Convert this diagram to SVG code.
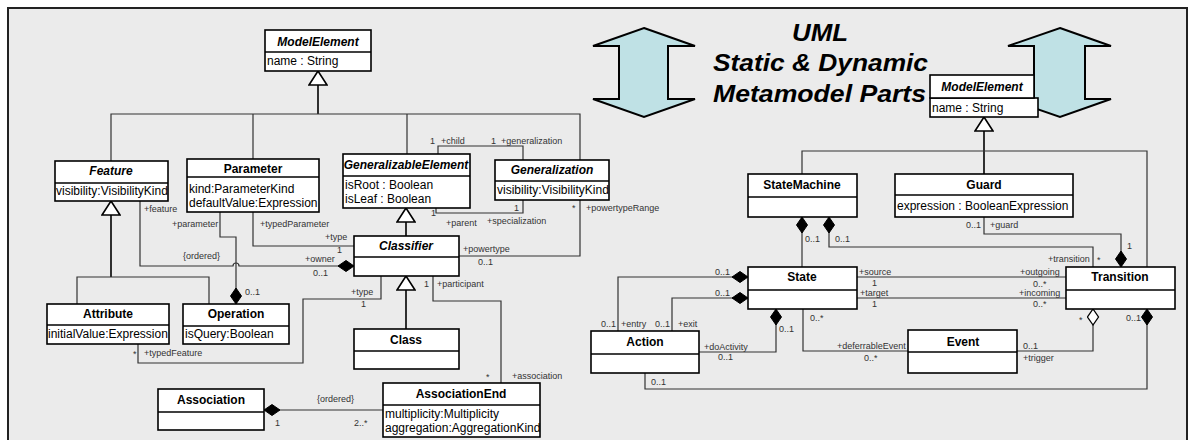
<svg xmlns="http://www.w3.org/2000/svg" width="1194" height="440" viewBox="0 0 1194 440">
  <style>
    .frame { fill: #ebebeb; stroke: #222; stroke-width: 2; }
    .arrow { fill: #bfe1e5; stroke: #000; stroke-width: 2; stroke-linejoin: miter; }
    .box { fill: #fff; stroke: #000; stroke-width: 1.6; }
    .sep { stroke: #000; stroke-width: 1.6; }
    .t { font-family: "Liberation Sans", Arial, sans-serif; font-size: 12px; font-weight: bold; text-anchor: middle; fill: #000; }
    .ti { font-style: italic; }
    .a { font-family: "Liberation Sans", Arial, sans-serif; font-size: 12px; fill: #000; }
    .l { font-family: "Liberation Sans", Arial, sans-serif; font-size: 9px; fill: #333; }
    .c { fill: none; stroke: #333; stroke-width: 1.2; }
    .g { fill: none; stroke: #000; stroke-width: 1.6; }
    .title { font-family: "Liberation Sans", Arial, sans-serif; font-size: 24px; font-weight: bold; font-style: italic; fill: #000; }
  </style>
  <defs>
    <!-- hollow generalization triangle, tip at the end of the path -->
    <marker id="gen" viewBox="-1 -1 16 20" refX="14" refY="9" markerWidth="16" markerHeight="20" markerUnits="userSpaceOnUse" orient="auto">
      <path d="M0,0 L14,9 L0,18 Z" fill="#fff" stroke="#000" stroke-width="1.6"/>
    </marker>
    <!-- filled composition diamond -->
    <marker id="comp" viewBox="-1 -1 18 13" refX="16" refY="5.5" markerWidth="18" markerHeight="13" markerUnits="userSpaceOnUse" orient="auto">
      <path d="M0,5.5 L8,0 L16,5.5 L8,11 Z" fill="#000" stroke="#000" stroke-width="1"/>
    </marker>
    <!-- hollow aggregation diamond -->
    <marker id="agg" viewBox="-1 -1 18 13" refX="16" refY="5.5" markerWidth="18" markerHeight="13" markerUnits="userSpaceOnUse" orient="auto">
      <path d="M0,5.5 L8,0 L16,5.5 L8,11 Z" fill="#fff" stroke="#000" stroke-width="1.3"/>
    </marker>
  </defs>

  <rect x="0" y="0" width="1194" height="440" fill="#fff"/>
  <rect class="frame" x="8" y="8" width="1179" height="450"/>

  <!-- heading and double arrows -->
  <g id="heading">
    <polygon class="arrow" points="644,28 695,46 668,46 668,99 695,99 644,117 593,99 619,99 619,46 593,46"/>
    <polygon class="arrow" points="1060,28 1111,46 1085,46 1085,99 1111,99 1060,117 1008,99 1034,99 1034,46 1008,46"/>
    <text class="title" x="792" y="41" textLength="56" lengthAdjust="spacingAndGlyphs">UML</text>
    <text class="title" x="713" y="71" textLength="215" lengthAdjust="spacingAndGlyphs">Static &amp; Dynamic</text>
    <text class="title" x="713" y="102" textLength="213" lengthAdjust="spacingAndGlyphs">Metamodel Parts</text>
  </g>

  <!-- connectors -->
  <g id="connectors">
    <!-- static part: generalizations -->
    <path class="g" d="M318,114 L318,71" marker-end="url(#gen)"/>
    <path class="c" d="M111,161 L111,114 L580,114 L580,160 M253,159 L253,114 M407,154 L407,114"/>
    <path class="g" d="M111,277 L111,201" marker-end="url(#gen)"/>
    <path class="c" d="M77,304 L77,277 L209,277 L209,304"/>
    <path class="g" d="M406,236 L406,208" marker-end="url(#gen)"/>
    <path class="g" d="M406,329 L406,276" marker-end="url(#gen)"/>

    <!-- static part: associations -->
    <path class="c" d="M438,154 L438,146 L523,146 L523,160"/>
    <path class="c" d="M436,208 L436,213 L523,213 L523,200"/>
    <path class="c" d="M459,256 L580,256 L580,200"/>
    <path class="c" d="M140,201 L140,266 L233,266 A3,3 0 0 1 239,266 L354,266" marker-end="url(#comp)"/>
    <path class="c" d="M220,212 L220,237 L236,237 L236,304" marker-end="url(#comp)"/>
    <path class="c" d="M253,212 L253,246 L354,246"/>
    <path class="c" d="M138,344 L138,363 L303,363 L303,299 L381,299 L381,276"/>
    <path class="c" d="M433,276 L433,301 L501,301 L501,383"/>
    <path class="c" d="M383,410 L264,410" marker-end="url(#comp)"/>

    <!-- dynamic part: generalization -->
    <path class="g" d="M984,174 L984,117" marker-end="url(#gen)"/>
    <path class="c" d="M802,174 L802,151 L1147,151 L1147,267"/>

    <!-- dynamic part: associations -->
    <path class="c" d="M984,217 L984,234 L1121,234 L1121,267" marker-end="url(#comp)"/>
    <path class="c" d="M1093,267 L1093,247 L829,247 L829,217" marker-end="url(#comp)"/>
    <path class="c" d="M802,267 L802,217" marker-end="url(#comp)"/>
    <path class="c" d="M857,277 L1066,277"/>
    <path class="c" d="M857,298 L1066,298"/>
    <path class="c" d="M803,309 L803,351 L908,351"/>
    <path class="c" d="M1017,351 L1093,351 L1093,309" marker-end="url(#agg)"/>
    <path class="c" d="M645,373 L645,389 L1147,389 L1147,309" marker-end="url(#comp)"/>
    <path class="c" d="M618,331 L618,277 L748,277" marker-end="url(#comp)"/>
    <path class="c" d="M672,331 L672,298 L748,298" marker-end="url(#comp)"/>
    <path class="c" d="M699,352 L776,352 L776,309" marker-end="url(#comp)"/>
  </g>

  <!-- association end labels -->
  <g id="labels">
    <text class="l" x="430" y="144">1</text>
    <text class="l" x="441" y="144">+child</text>
    <text class="l" x="491" y="144">1</text>
    <text class="l" x="501" y="144">+generalization</text>
    <text class="l" x="431" y="216">1</text>
    <text class="l" x="446" y="226">+parent</text>
    <text class="l" x="514" y="211">1</text>
    <text class="l" x="487" y="224">+specialization</text>
    <text class="l" x="463" y="252">+powertype</text>
    <text class="l" x="478" y="265">0..1</text>
    <text class="l" x="572" y="211">*</text>
    <text class="l" x="586" y="211">+powertypeRange</text>
    <text class="l" x="144" y="212">+feature</text>
    <text class="l" x="183" y="259">{ordered}</text>
    <text class="l" x="305" y="262">+owner</text>
    <text class="l" x="313" y="276">0..1</text>
    <text class="l" x="172" y="227">+parameter</text>
    <text class="l" x="245" y="295">0..1</text>
    <text class="l" x="260" y="227">+typedParameter</text>
    <text class="l" x="325" y="240">+type</text>
    <text class="l" x="337" y="253">1</text>
    <text class="l" x="133" y="357">*</text>
    <text class="l" x="144" y="356">+typedFeature</text>
    <text class="l" x="351" y="295">+type</text>
    <text class="l" x="361" y="307">1</text>
    <text class="l" x="424" y="287">1</text>
    <text class="l" x="437" y="287">+participant</text>
    <text class="l" x="486" y="380">*</text>
    <text class="l" x="512" y="379">+association</text>
    <text class="l" x="317" y="402">{ordered}</text>
    <text class="l" x="275" y="426">1</text>
    <text class="l" x="354" y="426">2..*</text>

    <text class="l" x="966" y="228">0..1</text>
    <text class="l" x="990" y="228">+guard</text>
    <text class="l" x="1127" y="249">1</text>
    <text class="l" x="805" y="242">0..1</text>
    <text class="l" x="835" y="242">0..1</text>
    <text class="l" x="1048" y="262">+transition</text>
    <text class="l" x="1097" y="263">*</text>
    <text class="l" x="859" y="275">+source</text>
    <text class="l" x="872" y="286">1</text>
    <text class="l" x="1020" y="275">+outgoing</text>
    <text class="l" x="1033" y="287">0..*</text>
    <text class="l" x="860" y="296">+target</text>
    <text class="l" x="872" y="307">1</text>
    <text class="l" x="1019" y="296">+incoming</text>
    <text class="l" x="1033" y="307">0..*</text>
    <text class="l" x="810" y="321">0..*</text>
    <text class="l" x="837" y="349">+deferrableEvent</text>
    <text class="l" x="864" y="361">0..*</text>
    <text class="l" x="1023" y="349">0..1</text>
    <text class="l" x="1023" y="361">+trigger</text>
    <text class="l" x="1079" y="323">*</text>
    <text class="l" x="1126" y="321">0..1</text>
    <text class="l" x="651" y="385">0..1</text>
    <text class="l" x="715" y="275">0..1</text>
    <text class="l" x="715" y="296">0..1</text>
    <text class="l" x="601" y="327">0..1</text>
    <text class="l" x="621" y="327">+entry</text>
    <text class="l" x="655" y="327">0..1</text>
    <text class="l" x="678" y="327">+exit</text>
    <text class="l" x="779" y="332">0..1</text>
    <text class="l" x="704" y="350">+doActivity</text>
    <text class="l" x="718" y="360">0..1</text>
  </g>

  <!-- static metamodel classes -->
  <g id="model-element-static">
    <rect class="box" x="265" y="30" width="106" height="41"/>
    <line class="sep" x1="265" y1="52" x2="371" y2="52"/>
    <text class="t ti" x="318" y="46">ModelElement</text>
    <text class="a" x="267" y="65">name : String</text>
  </g>
  <g id="feature">
    <rect class="box" x="55" y="161" width="113" height="40"/>
    <line class="sep" x1="55" y1="183" x2="168" y2="183"/>
    <text class="t ti" x="111" y="175">Feature</text>
    <text class="a" x="56" y="195">visibility:VisibilityKind</text>
  </g>
  <g id="parameter">
    <rect class="box" x="187" y="159" width="132" height="53"/>
    <line class="sep" x1="187" y1="177" x2="319" y2="177"/>
    <text class="t" x="253" y="173">Parameter</text>
    <text class="a" x="189" y="193">kind:ParameterKind</text>
    <text class="a" x="189" y="207">defaultValue:Expression</text>
  </g>
  <g id="generalizable-element">
    <rect class="box" x="343" y="154" width="127" height="54"/>
    <line class="sep" x1="343" y1="176" x2="470" y2="176"/>
    <text class="t ti" x="406" y="169">GeneralizableElement</text>
    <text class="a" x="345" y="189">isRoot : Boolean</text>
    <text class="a" x="345" y="203">isLeaf : Boolean</text>
  </g>
  <g id="generalization">
    <rect class="box" x="495" y="160" width="114" height="40"/>
    <line class="sep" x1="495" y1="181" x2="609" y2="181"/>
    <text class="t ti" x="552" y="174">Generalization</text>
    <text class="a" x="497" y="194">visibility:VisibilityKind</text>
  </g>
  <g id="classifier">
    <rect class="box" x="354" y="236" width="105" height="40"/>
    <line class="sep" x1="354" y1="257" x2="459" y2="257"/>
    <text class="t ti" x="406" y="250">Classifier</text>
  </g>
  <g id="attribute">
    <rect class="box" x="47" y="304" width="122" height="40"/>
    <line class="sep" x1="47" y1="325" x2="169" y2="325"/>
    <text class="t" x="108" y="318">Attribute</text>
    <text class="a" x="48" y="338">initialValue:Expression</text>
  </g>
  <g id="operation">
    <rect class="box" x="183" y="304" width="106" height="40"/>
    <line class="sep" x1="183" y1="326" x2="289" y2="326"/>
    <text class="t" x="236" y="318">Operation</text>
    <text class="a" x="185" y="338">isQuery:Boolean</text>
  </g>
  <g id="class">
    <rect class="box" x="354" y="329" width="105" height="40"/>
    <line class="sep" x1="354" y1="351" x2="459" y2="351"/>
    <text class="t" x="406" y="344">Class</text>
  </g>
  <g id="association">
    <rect class="box" x="158" y="389" width="106" height="41"/>
    <line class="sep" x1="158" y1="412" x2="264" y2="412"/>
    <text class="t" x="211" y="404">Association</text>
  </g>
  <g id="association-end">
    <rect class="box" x="383" y="383" width="157" height="54"/>
    <line class="sep" x1="383" y1="405" x2="540" y2="405"/>
    <text class="t" x="461" y="398">AssociationEnd</text>
    <text class="a" x="385" y="418">multiplicity:Multiplicity</text>
    <text class="a" x="385" y="432">aggregation:AggregationKind</text>
  </g>

  <!-- dynamic metamodel classes -->
  <g id="model-element-dynamic">
    <rect class="box" x="930" y="98" width="108" height="19"/>
    <rect class="box" x="930" y="75" width="104" height="23"/>
    <text class="t ti" x="982" y="91">ModelElement</text>
    <text class="a" x="932" y="112">name : String</text>
  </g>
  <g id="state-machine">
    <rect class="box" x="748" y="174" width="109" height="43"/>
    <line class="sep" x1="748" y1="197" x2="857" y2="197"/>
    <text class="t" x="802" y="189">StateMachine</text>
  </g>
  <g id="guard">
    <rect class="box" x="895" y="174" width="178" height="43"/>
    <line class="sep" x1="895" y1="195" x2="1073" y2="195"/>
    <text class="t" x="984" y="189">Guard</text>
    <text class="a" x="897" y="210">expression : BooleanExpression</text>
  </g>
  <g id="state">
    <rect class="box" x="748" y="267" width="109" height="42"/>
    <line class="sep" x1="748" y1="290" x2="857" y2="290"/>
    <text class="t" x="802" y="281">State</text>
  </g>
  <g id="transition">
    <rect class="box" x="1066" y="267" width="109" height="42"/>
    <line class="sep" x1="1066" y1="290" x2="1175" y2="290"/>
    <text class="t" x="1120" y="281">Transition</text>
  </g>
  <g id="action">
    <rect class="box" x="591" y="331" width="108" height="42"/>
    <line class="sep" x1="591" y1="354" x2="699" y2="354"/>
    <text class="t" x="645" y="346">Action</text>
  </g>
  <g id="event">
    <rect class="box" x="908" y="330" width="109" height="43"/>
    <line class="sep" x1="908" y1="352" x2="1017" y2="352"/>
    <text class="t" x="963" y="346">Event</text>
  </g>
</svg>
